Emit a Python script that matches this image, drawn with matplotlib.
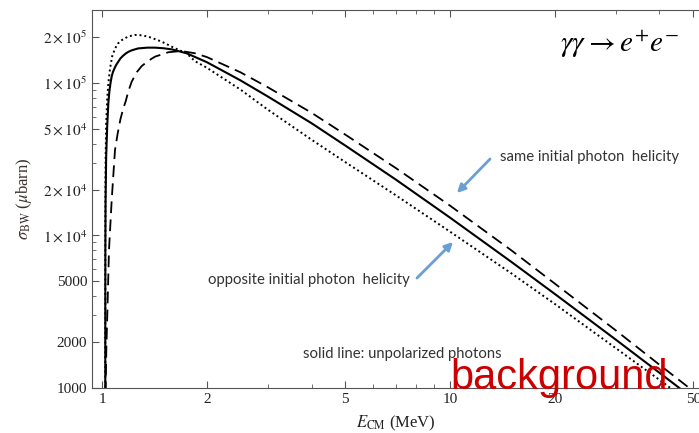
import matplotlib
matplotlib.use("Agg")
import matplotlib.pyplot as plt
from matplotlib.ticker import FixedLocator, FixedFormatter, LogLocator, NullFormatter

plt.rcParams['mathtext.fontset'] = 'stix'
plt.rcParams['font.family'] = ['Liberation Serif', 'DejaVu Serif']

# unpolarized photons (solid)
E_unpol = [1.0220, 1.0221, 1.0225, 1.024, 1.028, 1.035, 1.043, 1.05, 1.058, 1.066,
           1.075, 1.09, 1.10, 1.114, 1.13, 1.15, 1.17, 1.19, 1.22, 1.27, 1.35, 1.42,
           1.5, 1.59, 1.75, 2.0, 2.5, 3.0, 4.0, 5.0, 7.0, 10, 15, 20, 30, 40, 50]
sig_unpol = [600, 3500, 8000, 17000, 33000, 52000, 74000, 88000, 100000, 110000,
             118000, 127000, 132000, 138000, 145000, 151000, 156000, 160000, 164000,
             168500, 170500, 170500, 169000, 166000, 156600, 137000, 104000, 81400,
             54500, 38900, 23200, 13100, 6720, 4140, 2070, 1258, 852]

# opposite initial photon helicity (dotted)
E_opp = [1.0220, 1.02201, 1.0221, 1.0225, 1.024, 1.028, 1.035, 1.044, 1.0544, 1.07,
         1.09, 1.11, 1.14, 1.19, 1.245, 1.3, 1.36, 1.42, 1.485, 1.62, 1.75, 1.85,
         2.0, 2.5, 3.0, 4.0, 5.0, 7.0, 10, 15, 20, 30, 40, 50]
sig_opp = [700, 2200, 7000, 15600, 31200, 53800, 78900, 102000, 124000, 150000,
           168000, 181000, 191000, 202000, 206500, 205500, 201000, 194000, 186600,
           169000, 156600, 139000, 126000, 90500, 66700, 42500, 30300, 18300,
           10600, 5650, 3560, 1820, 1130, 775]

# same initial photon helicity (dashed)
E_same = [1.0240, 1.0248, 1.0289, 1.0384, 1.0474, 1.0663, 1.0898, 1.11, 1.13, 1.15,
          1.17, 1.19, 1.217, 1.26, 1.3, 1.36, 1.42, 1.55, 1.69, 1.85, 2.0, 2.5,
          3.0, 4.0, 5.0, 7.0, 10, 15, 20, 30, 40, 50, 55]
sig_same = [700, 1020, 1775, 3776, 8035, 17090, 36360, 47000, 58000, 67500,
            76000, 88000, 102000, 118000, 129000, 140000, 148800, 159000, 162100,
            156600, 148000, 117500, 93600, 63800, 45900, 27600, 15700, 8000,
            4840, 2380, 1420, 955, 810]

x_ticks = [1, 2, 5, 10, 20, 50]
x_labels = ['1', '2', '5', '10', '20', '50']
y_ticks = [1000, 2000, 5000, 1e4, 2e4, 5e4, 1e5, 2e5]
y_labels = ['1000', '2000', '5000', r'$1\times 10^{4}$', r'$2\times 10^{4}$',
            r'$5\times 10^{4}$', r'$1\times 10^{5}$', r'$2\times 10^{5}$']

W, H = 699, 433
fig = plt.figure(figsize=(W / 100, H / 100), dpi=100)
ax = fig.add_axes([92 / W, (H - 388) / H, (W - 92) / W, 378 / H])

ax.plot(E_unpol, sig_unpol, color='black', lw=1.5, solid_capstyle='butt')
ax.plot(E_same, sig_same, color='black', lw=1.3, linestyle=(0, (6.5, 3.5)))
ax.plot(E_opp, sig_opp, color='black', lw=1.4, linestyle=(0, (1, 1.5)))

ax.set_xscale('log')
ax.set_yscale('log')
ax.set_xlim(0.936, 51.95)
ax.set_ylim(1000, 301000)

ax.xaxis.set_major_locator(FixedLocator(x_ticks))
ax.xaxis.set_major_formatter(FixedFormatter(x_labels))
ax.xaxis.set_minor_locator(LogLocator(base=10, subs=range(2, 10), numticks=20))
ax.xaxis.set_minor_formatter(NullFormatter())
ax.yaxis.set_major_locator(FixedLocator(y_ticks))
ax.yaxis.set_major_formatter(FixedFormatter(y_labels))
ax.yaxis.set_minor_locator(LogLocator(base=10, subs=range(1, 10), numticks=20))
ax.yaxis.set_minor_formatter(NullFormatter())

ax.tick_params(which='both', direction='in', top=True, right=False, colors='#555555',
               labelcolor='#222222', labelsize=11)
ax.tick_params(which='major', length=5, width=0.8)
ax.tick_params(which='minor', length=3, width=0.6)
ax.spines['right'].set_visible(False)
for s in ['left', 'bottom', 'top']:
    ax.spines[s].set_color('#555555')

ax.set_xlabel(r'$E_{\rm CM}$ (MeV)', fontsize=12, color='#222222', labelpad=6)
ax.set_ylabel(r'$\sigma_{\rm BW}$ ($\mu$barn)', fontsize=12, color='#3a3030', labelpad=6)

fig.text(560 / W, 1 - 45 / H, r'$\gamma\gamma \rightarrow e^{+}e^{-}$', fontsize=21,
         va='center', ha='left')

note = dict(fontsize=10.7, color='#333333', family=['Lato', 'DejaVu Sans'], va='center')
fig.text(500 / W, 1 - 157 / H, 'same initial photon  helicity', **note)
fig.text(208 / W, 1 - 280 / H, 'opposite initial photon  helicity', **note)
fig.text(303 / W, 1 - 354 / H, 'solid line: unpolarized photons', **note)

arrow = dict(arrowstyle='-|>', color='#6a9fd4', lw=2, mutation_scale=12)
ax.annotate('', xy=(455, H - 195), xycoords='figure pixels',
            xytext=(492, H - 157), textcoords='figure pixels', arrowprops=arrow)
ax.annotate('', xy=(455, H - 240), xycoords='figure pixels',
            xytext=(415, H - 280), textcoords='figure pixels', arrowprops=arrow)

fig.text(450 / W, 1 - 389 / H, 'background', fontsize=30, color='#cc0000',
         family=['Liberation Sans', 'DejaVu Sans'], va='baseline', ha='left')

fig.savefig('out.png', dpi=100)
